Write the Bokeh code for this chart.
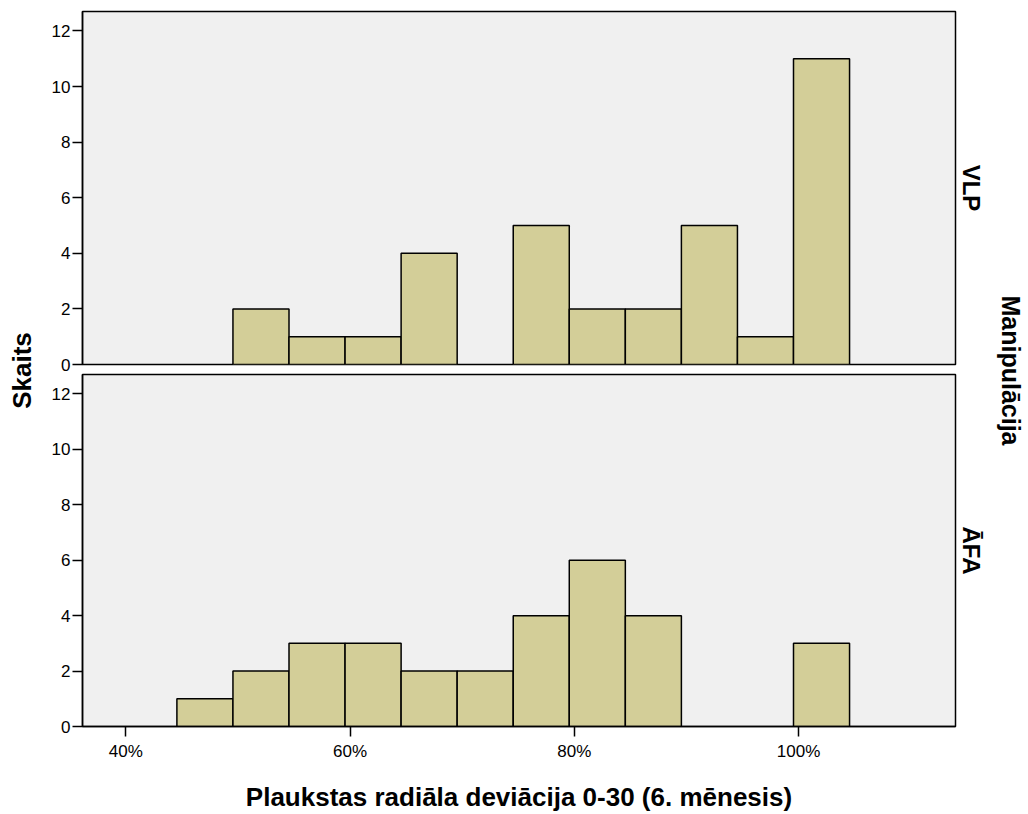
import math
from bokeh.plotting import figure
from bokeh.layouts import row, column
from bokeh.models import Range1d, FixedTicker, PrintfTickFormatter, LinearAxis, Label
from bokeh.embed import file_html
from bokeh.resources import INLINE

# ---- data ----
bin_left = [44.55, 49.55, 54.55, 59.55, 64.55, 69.55, 74.55, 79.55, 84.55, 89.55, 94.55, 99.55]
bin_width = 5.0
counts_vlp = [0, 2, 1, 1, 4, 0, 5, 2, 2, 5, 1, 11]
counts_afa = [1, 2, 3, 3, 2, 2, 4, 6, 4, 0, 0, 3]
panel_labels = ["VLP", "ĀFA"]
x_ticks = [40, 60, 80, 100]
y_ticks = [0, 2, 4, 6, 8, 10, 12]
x_title = "Plaukstas radiāla deviācija 0-30 (6. mēnesis)"
y_title = "Skaits"
facet_title = "Manipulācija"

FONT = "Liberation Sans"
BAR = "#D3CE98"
BG = "#F0F0F0"


def panel(counts, label, height, show_x, b_top, b_bottom):
    p = figure(width=950, height=height,
               x_range=Range1d(36.13, 114.0), y_range=Range1d(0, 12.7),
               output_backend="svg", toolbar_location=None,
               min_border_left=42, min_border_right=35,
               min_border_top=b_top, min_border_bottom=b_bottom,
               background_fill_color=BG, border_fill_color="white",
               x_axis_location="below" if show_x else None)
    p.grid.visible = False
    p.outline_line_color = "black"
    p.outline_line_width = 1.5
    lefts = [l for l, c in zip(bin_left, counts) if c > 0]
    rights = [l + bin_width for l, c in zip(bin_left, counts) if c > 0]
    tops = [c for c in counts if c > 0]
    p.quad(left=lefts, right=rights, top=tops, bottom=0,
           fill_color=BAR, line_color="black", line_width=1.5)

    ya = p.yaxis[0]
    ya.ticker = FixedTicker(ticks=y_ticks)
    ya.minor_tick_line_color = None
    ya.major_tick_out = 10
    ya.major_tick_in = 0
    ya.major_tick_line_width = 1.5
    ya.axis_line_width = 1.5
    ya.major_label_standoff = 2
    ya.major_label_text_font = FONT
    ya.major_label_text_font_size = "17px"
    ya.major_label_text_color = "black"

    if show_x:
        xa = p.xaxis[0]
        xa.ticker = FixedTicker(ticks=x_ticks)
        xa.formatter = PrintfTickFormatter(format="%d%%")
        xa.minor_tick_line_color = None
        xa.major_tick_out = 10
        xa.major_tick_in = 0
        xa.major_tick_line_width = 1.5
        xa.axis_line_width = 1.5
        xa.major_label_standoff = 5
        xa.major_label_text_font = FONT
        xa.major_label_text_font_size = "17px"
        xa.major_label_text_color = "black"
        xa.axis_label = x_title
        xa.axis_label_text_font = FONT
        xa.axis_label_text_font_size = "26px"
        xa.axis_label_text_font_style = "bold"
        xa.axis_label_text_color = "black"
        xa.axis_label_standoff = 18

    ra = LinearAxis(ticker=FixedTicker(ticks=[]), axis_label=label,
                    axis_line_color=None, major_tick_line_color=None,
                    minor_tick_line_color=None, major_label_text_font_size="0px",
                    major_tick_out=0, major_tick_in=0, major_label_standoff=0,
                    axis_label_standoff=2, axis_label_text_font=FONT,
                    axis_label_text_font_size="24px",
                    axis_label_text_font_style="bold",
                    axis_label_text_color="black")
    p.add_layout(ra, "right")
    return p


top = panel(counts_vlp, panel_labels[0], 373, False, 11, 9)
bottom = panel(counts_afa, panel_labels[1], 441, True, 1, 86)


def side(width, text, x, angle, size):
    s = figure(width=width, height=814, x_range=Range1d(0, width), y_range=Range1d(0, 814),
               output_backend="svg", toolbar_location=None, min_border=0,
               x_axis_location=None, y_axis_location=None,
               outline_line_color=None, background_fill_color="white",
               border_fill_color="white")
    s.grid.visible = False
    s.add_layout(Label(x=x, y=814 - 370, text=text, angle=angle,
                       text_align="center", text_baseline="middle",
                       text_font=FONT, text_font_size=size,
                       text_font_style="bold", text_color="black"))
    return s


left = side(40, y_title, 21, math.pi / 2, "26px")
right = side(38, facet_title, 20, -math.pi / 2, "25px")

layout = row(left, column(top, bottom), right)
open("out.html", "w").write(file_html(layout, INLINE))
